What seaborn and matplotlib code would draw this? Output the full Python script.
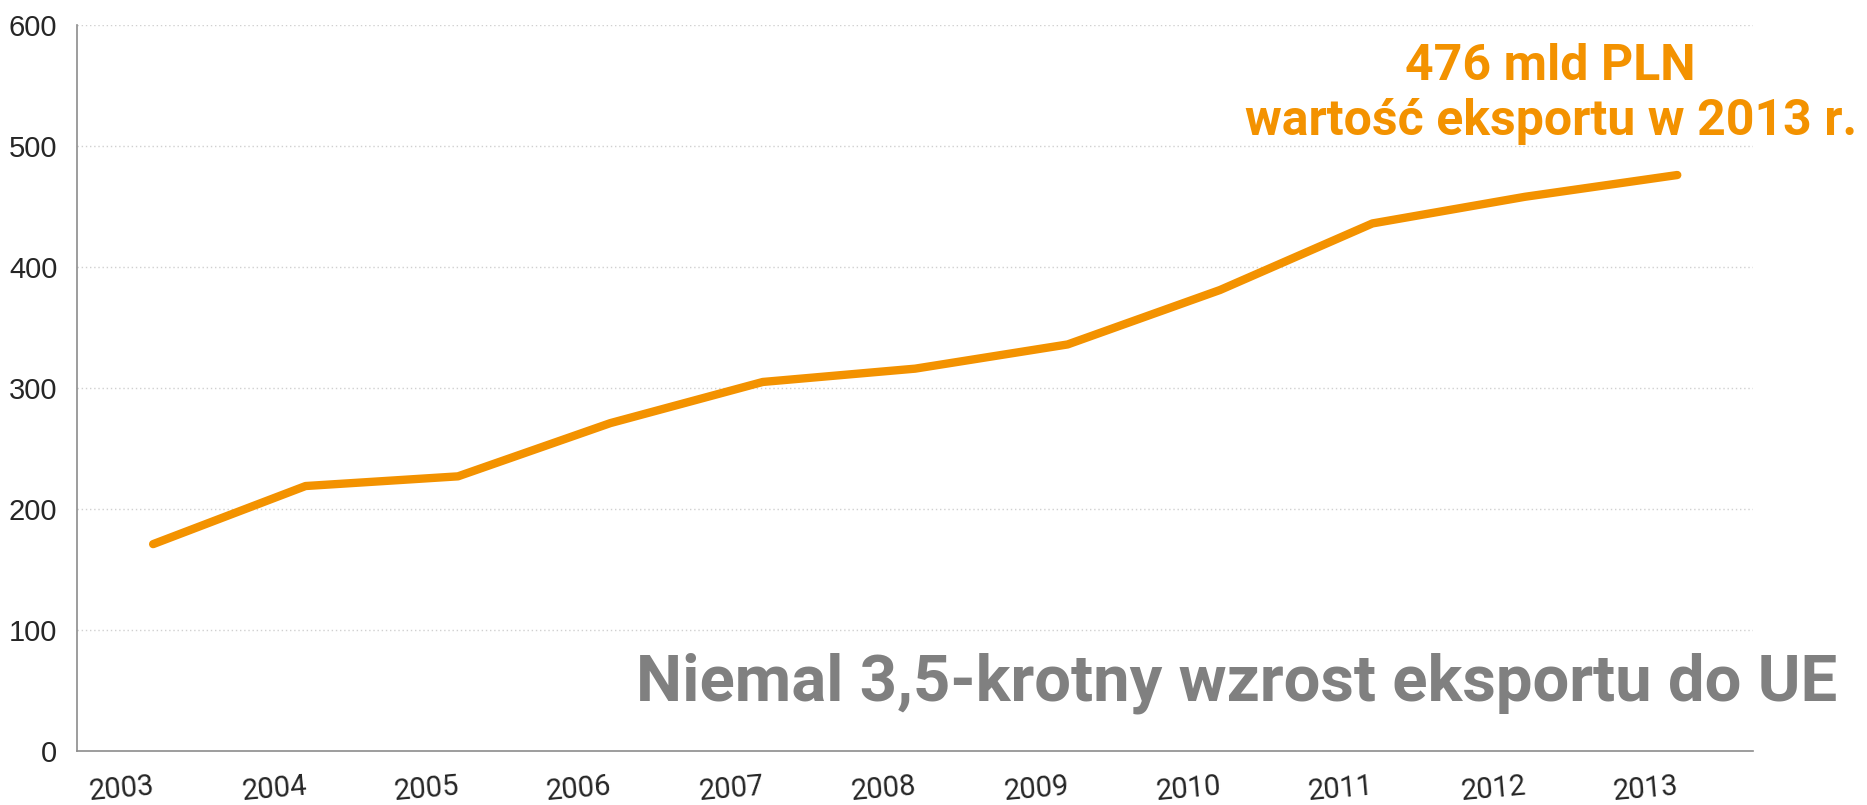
import matplotlib
matplotlib.use("Agg")
import matplotlib.pyplot as plt
import seaborn as sns
import pandas as pd
import numpy as np

years = ["2003", "2004", "2005", "2006", "2007", "2008", "2009", "2010", "2011", "2012", "2013"]
export_value = [171, 219, 227, 271, 305, 316, 336, 381, 436, 458, 476]
y_ticks = [0, 100, 200, 300, 400, 500, 600]

ORANGE = "#F39200"
GREY = "#808080"

sns.set_style("white")
plt.rcParams["font.family"] = ["Liberation Sans", "DejaVu Sans"]
NARROW = ["Roboto", "Liberation Sans", "DejaVu Sans"]

df = pd.DataFrame({"pos": np.arange(len(years)), "value": export_value})

fig = plt.figure(figsize=(18.67, 8.05), dpi=100)
ax = fig.add_axes([0.0412, 0.067, 0.898, 0.902])

sns.lineplot(data=df, x="pos", y="value", ax=ax, color=ORANGE,
             linewidth=6, solid_capstyle="round", solid_joinstyle="round", zorder=3)

# y axis
ax.set_ylim(0, 600)
ax.set_yticks(y_ticks)
ax.set_yticklabels([str(t) for t in y_ticks], fontsize=21)
for t in y_ticks[1:]:
    ax.axhline(t, color="#d0d0d0", linewidth=1, linestyle=(0, (1, 2)), zorder=1)

# x axis: ticks at category boundaries, labels at centres
ax.set_xlim(-0.5, len(years) - 0.5)
ax.set_xticks(np.arange(-0.5, len(years), 1.0))
ax.set_xticklabels([])
ax.set_xticks(np.arange(len(years)), minor=True)
ax.set_xticklabels(years, minor=True, fontsize=21, rotation=5,
                   ha="right", rotation_mode="anchor", family=NARROW)
ax.tick_params(axis="x", which="major", length=8, width=1.2, color="#8c8c8c", direction="out")
ax.tick_params(axis="x", which="minor", length=0, pad=15)
ax.tick_params(axis="y", length=6, width=1.2, color="#8c8c8c", direction="out", pad=8)
ax.set_xlabel("")
ax.set_ylabel("")

sns.despine(ax=ax)
for side in ["left", "bottom"]:
    ax.spines[side].set_color("#8c8c8c")
    ax.spines[side].set_linewidth(1.2)

ax.text(0.879, 0.924, "476 mld PLN", transform=ax.transAxes, ha="center",
        va="baseline", fontsize=36, fontweight="bold", color=ORANGE,
        family=NARROW, clip_on=False)
ax.text(0.879, 0.849, "wartość eksportu w 2013 r.", transform=ax.transAxes, ha="center",
        va="baseline", fontsize=36, fontweight="bold", color=ORANGE,
        family=NARROW, clip_on=False)
ax.text(1.050, 0.070, "Niemal 3,5-krotny wzrost eksportu do UE", transform=ax.transAxes,
        ha="right", va="baseline", fontsize=47, fontweight="bold", color=GREY,
        family=NARROW, clip_on=False)

fig.savefig("out.png", dpi=100)
